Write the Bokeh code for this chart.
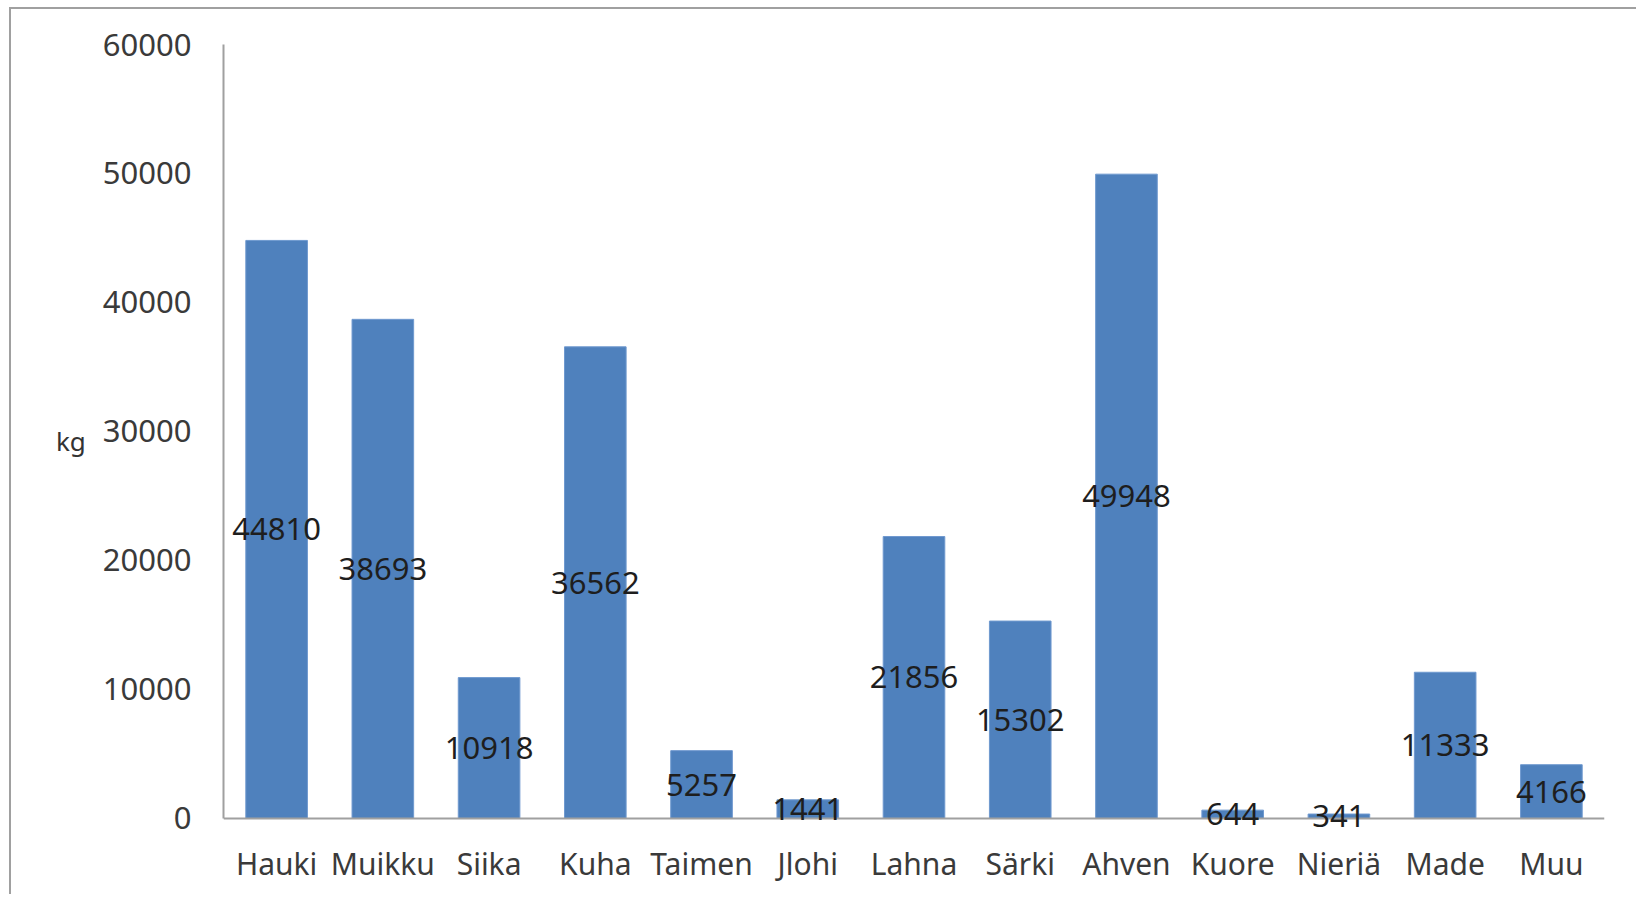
from bokeh.plotting import figure
from bokeh.models import ColumnDataSource, FactorRange, Range1d, LabelSet, Span
from bokeh.core.properties import value
from bokeh.embed import file_html
from bokeh.resources import INLINE

categories = ["Hauki", "Muikku", "Siika", "Kuha", "Taimen", "Jlohi", "Lahna",
              "Särki", "Ahven", "Kuore", "Nieriä", "Made", "Muu"]
catch_kg = [44810, 38693, 10918, 36562, 5257, 1441, 21856,
            15302, 49948, 644, 341, 11333, 4166]
y_ticks = [0, 10000, 20000, 30000, 40000, 50000, 60000]
y_label = "kg"

FONT = "Noto Sans"

src = ColumnDataSource(dict(
    cat=categories,
    val=catch_kg,
    mid=[v / 2 for v in catch_kg],
    lbl=[str(v) for v in catch_kg],
))

p = figure(
    width=1627, height=887,
    x_range=FactorRange(*categories, range_padding=0),
    y_range=Range1d(-1400, 60000),
    output_backend="svg", toolbar_location=None,
    min_border_left=212, min_border_right=34,
    min_border_top=35, min_border_bottom=60,
)
p.styles = {"border-left": "2px solid #a0a0a0", "border-top": "2px solid #a0a0a0",
            "margin-left": "9px", "margin-top": "7px"}
p.outline_line_color = None
p.grid.visible = False

p.vbar(x="cat", top="val", width=0.58, source=src,
       fill_color="#4F81BD", line_color="#6f99cf", line_width=1)

# category axis line at zero
p.add_layout(Span(location=0, dimension="width", line_color="#a0a0a0", line_width=2))

labels = LabelSet(x="cat", y="mid", text="lbl", source=src,
                  text_align="center", text_baseline="middle",
                  text_font=value(FONT), text_font_size="31px", text_color="#1e1e1e")
p.add_layout(labels)

# y axis
ya = p.yaxis[0]
ya.ticker = y_ticks
ya.bounds = (0, 60000)
ya.axis_label = y_label
ya.axis_label_orientation = "horizontal"
ya.axis_label_standoff = 14
ya.axis_label_text_font = FONT
ya.axis_label_text_font_size = "26px"
ya.axis_label_text_font_style = "normal"
ya.axis_label_text_color = "#333333"
ya.major_label_text_font = FONT
ya.major_label_text_font_size = "31px"
ya.major_label_text_color = "#3a3a3a"
ya.major_label_standoff = 26
ya.major_tick_line_color = None
ya.minor_tick_line_color = None
ya.axis_line_color = "#a0a0a0"
ya.axis_line_width = 2

# x axis (line drawn by the span at zero)
xa = p.xaxis[0]
xa.major_label_text_font = FONT
xa.major_label_text_font_size = "30px"
xa.major_label_text_color = "#3a3a3a"
xa.major_label_standoff = 0
xa.major_tick_line_color = None
xa.minor_tick_line_color = None
xa.axis_line_color = None

open("out.html", "w").write(file_html(p, INLINE))
